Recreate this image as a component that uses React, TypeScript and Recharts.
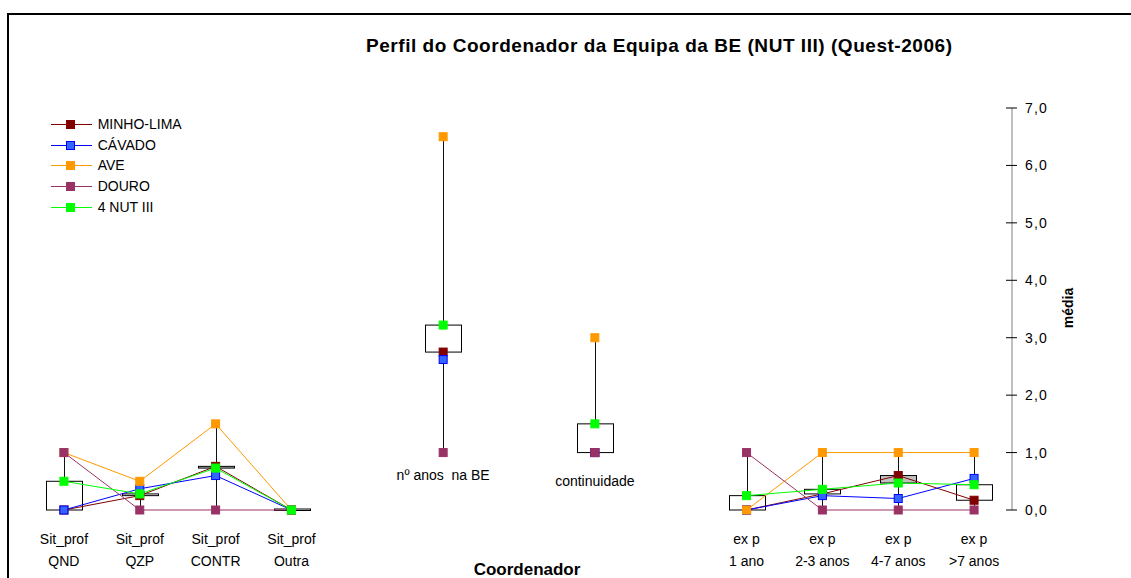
import React from 'react';
import { ComposedChart, Line, Bar, XAxis, YAxis, Legend } from 'recharts';

const FONT = '"Liberation Sans", Arial, sans-serif';

// categories (blank slots are the gaps between groups)
const catKeys = ['qnd', 'qzp', 'contr', 'outra', 'gap1', 'anos', 'gap2', 'cont', 'gap3', 'exp1', 'exp23', 'exp47', 'exp7'];
const labelTop = ['Sit_prof', 'Sit_prof', 'Sit_prof', 'Sit_prof', '', 'nº anos  na BE', '', 'continuidade', '', 'ex p', 'ex p', 'ex p', 'ex p'];
const labelBottom = ['QND', 'QZP', 'CONTR', 'Outra', '', '', '', '', '', '1 ano', '2-3 anos', '4-7 anos', '>7 anos'];

// series values (média)
const minhoLima = [0.0, 0.25, 0.76, 0.0, null, 2.75, null, 1.0, null, 0.0, 0.28, 0.6, 0.17];
const cavado = [0.0, 0.37, 0.6, 0.0, null, 2.62, null, 1.0, null, 0.0, 0.25, 0.2, 0.55];
const ave = [1.0, 0.5, 1.5, 0.0, null, 6.5, null, 3.0, null, 0.0, 1.0, 1.0, 1.0];
const douro = [1.0, 0.0, 0.0, 0.0, null, 1.0, null, 1.0, null, 1.0, 0.0, 0.0, 0.0];
const nut4 = [0.5, 0.28, 0.73, 0.0, null, 3.22, null, 1.5, null, 0.25, 0.36, 0.47, 0.44];

const yTicks = [0, 1, 2, 3, 4, 5, 6, 7];

const series = [
  { key: 'minho', name: 'MINHO-LIMA', values: minhoLima, stroke: '#800000', fill: '#800000', mark: '#800000' },
  { key: 'cavado', name: 'CÁVADO', values: cavado, stroke: '#0000ff', fill: '#3366ff', mark: '#0000ff' },
  { key: 'ave', name: 'AVE', values: ave, stroke: '#ff9900', fill: '#ff9900', mark: '#ff9900' },
  { key: 'douro', name: 'DOURO', values: douro, stroke: '#993366', fill: '#993366', mark: '#993366' },
  { key: 'nut', name: '4 NUT III', values: nut4, stroke: '#00ff00', fill: '#00ff00', mark: '#00ff00' },
];

const data = catKeys.map((cat, i) => {
  const row: any = { cat, idx: i };
  series.forEach((s) => (row[s.key] = s.values[i]));
  const vals = series.map((s) => s.values[i]).filter((v) => v != null) as number[];
  if (vals.length) {
    const first = minhoLima[i] as number;
    const last = nut4[i] as number;
    row.hl = [Math.min(...vals), Math.max(...vals)];
    row.box = [Math.min(first, last), Math.max(first, last)];
    row.up = last >= first;
  } else {
    row.hl = null;
    row.box = null;
  }
  return row;
});

const fmt = (v: number) => v.toFixed(1).replace('.', ',');

const XTick = (props: any) => {
  const { x, y, payload } = props;
  const i = catKeys.indexOf(payload.value);
  if (i < 0 || !labelTop[i]) return <g />;
  // the two single-line labels sit higher, just under their points
  const dy1 = i === 5 ? -60 : i === 7 ? -54 : 4;
  return (
    <g style={{ fontFamily: FONT, fontSize: 14 }}>
      <text x={x} y={y + dy1} textAnchor="middle" fill="#000" style={{ whiteSpace: 'pre' }}>
        {labelTop[i]}
      </text>
      {labelBottom[i] && (
        <text x={x} y={y + 26} textAnchor="middle" fill="#000">
          {labelBottom[i]}
        </text>
      )}
    </g>
  );
};

const YTick = (props: any) => {
  const { x, y, payload } = props;
  return (
    <g>
      <line x1={x - 6} x2={x + 5} y1={y} y2={y} stroke="#000" strokeWidth={1} />
      <text x={x + 13} y={y + 5} fill="#000" style={{ fontFamily: FONT, fontSize: 14, letterSpacing: 1.2 }}>
        {fmt(payload.value)}
      </text>
    </g>
  );
};

const HighLowShape = (props: any) => {
  const { x, y, width, height, payload } = props;
  if (x == null || y == null || !payload || !payload.hl) return <g />;
  const cx = Math.round(x + width / 2) + 0.5;
  const top = Math.min(y, y + height);
  return <line x1={cx} x2={cx} y1={top} y2={top + Math.abs(height)} stroke="#111" strokeWidth={1} />;
};

const BoxShape = (props: any) => {
  const { x, y, width, height, payload } = props;
  if (x == null || y == null || !payload || !payload.box) return <g />;
  const top = Math.min(y, y + height);
  const h = Math.abs(height);
  return (
    <rect
      x={Math.round(x) + 0.5}
      y={h < 1 ? top - 1 : top}
      width={Math.round(width)}
      height={Math.max(h, 1.5)}
      fill={payload.up ? '#ffffff' : '#c0c0c0'}
      stroke="#000"
      strokeWidth={1}
    />
  );
};

const squareDot = (fill: string, stroke: string) => (props: any) => {
  const { cx, cy, index, value } = props;
  if (cx == null || cy == null || value == null) return <g key={`d-${index}`} />;
  return <rect key={`d-${index}`} x={cx - 4} y={cy - 4} width={8} height={8} fill={fill} stroke={stroke} strokeWidth={1} />;
};

const LegendContent = () => (
  <div style={{ fontFamily: FONT, fontSize: 14, color: '#000' }}>
    {series.map((s) => (
      <div key={s.key} style={{ display: 'flex', alignItems: 'center', height: 20.7 }}>
        <svg width={44} height={20} style={{ display: 'block' }}>
          <line x1={1} x2={42} y1={10.5} y2={10.5} stroke={s.stroke} strokeWidth={1} />
          <rect x={16.5} y={6.5} width={8} height={8} fill={s.fill} stroke={s.mark} strokeWidth={1} />
        </svg>
        <span style={{ marginLeft: 3.7, lineHeight: '20px' }}>{s.name}</span>
      </div>
    ))}
  </div>
);

export default function App() {
  return (
    <div style={{ position: 'fixed', left: 0, top: 0, width: 1131, height: 578, overflow: 'hidden', background: '#fff' }}>
      <div
        style={{
          position: 'absolute',
          left: 7,
          top: 13,
          width: 1200,
          height: 700,
          borderLeft: '2px solid #000',
          borderTop: '2px solid #000',
        }}
      />
      <div style={{ position: 'absolute', left: 0, top: 0 }}>
        <ComposedChart width={1131} height={578} data={data} margin={{ top: 108, right: 0, bottom: 0, left: 26 }}>
          <XAxis
            xAxisId="main"
            dataKey="cat"
            interval={0}
            height={68}
            axisLine={false}
            tickLine={false}
            tickSize={0}
            tickMargin={0}
            tick={<XTick />}
          />
          <XAxis xAxisId="hl" dataKey="cat" hide />
          <YAxis
            orientation="right"
            width={119}
            domain={[0, 7]}
            ticks={yTicks}
            interval={0}
            axisLine={{ stroke: '#808080', strokeWidth: 1 }}
            tickLine={false}
            tickSize={0}
            tickMargin={0}
            tick={<YTick />}
          />
          <Legend
            layout="vertical"
            align="center"
            verticalAlign="middle"
            content={<LegendContent />}
            wrapperStyle={{ left: 50, top: 113.6, width: 'auto', height: 'auto' }}
          />
          <Bar xAxisId="hl" dataKey="hl" barSize={2} shape={<HighLowShape />} isAnimationActive={false} legendType="none" />
          <Bar xAxisId="main" dataKey="box" barSize={36} shape={<BoxShape />} isAnimationActive={false} legendType="none" />
          {series.map((s) => (
            <Line
              key={s.key}
              xAxisId="main"
              type="linear"
              dataKey={s.key}
              name={s.name}
              stroke={s.stroke}
              strokeWidth={1}
              connectNulls={false}
              dot={squareDot(s.fill, s.mark)}
              activeDot={false}
              isAnimationActive={false}
            />
          ))}
        </ComposedChart>
      </div>
      <svg width={1131} height={578} style={{ position: 'absolute', left: 0, top: 0, pointerEvents: 'none' }}>
        <text
          x={366}
          y={52}
          textLength={586}
          lengthAdjust="spacing"
          style={{ fontFamily: FONT, fontSize: 19, fontWeight: 'bold' }}
          fill="#000"
        >
          Perfil do Coordenador da Equipa da BE (NUT III) (Quest-2006)
        </text>
        <text x={527} y={575} textAnchor="middle" style={{ fontFamily: FONT, fontSize: 17, fontWeight: 'bold' }} fill="#000">
          Coordenador
        </text>
        <text
          x={1073}
          y={308}
          textAnchor="middle"
          transform="rotate(-90 1073 308)"
          style={{ fontFamily: FONT, fontSize: 14, fontWeight: 'bold' }}
          fill="#000"
        >
          média
        </text>
      </svg>
    </div>
  );
}
